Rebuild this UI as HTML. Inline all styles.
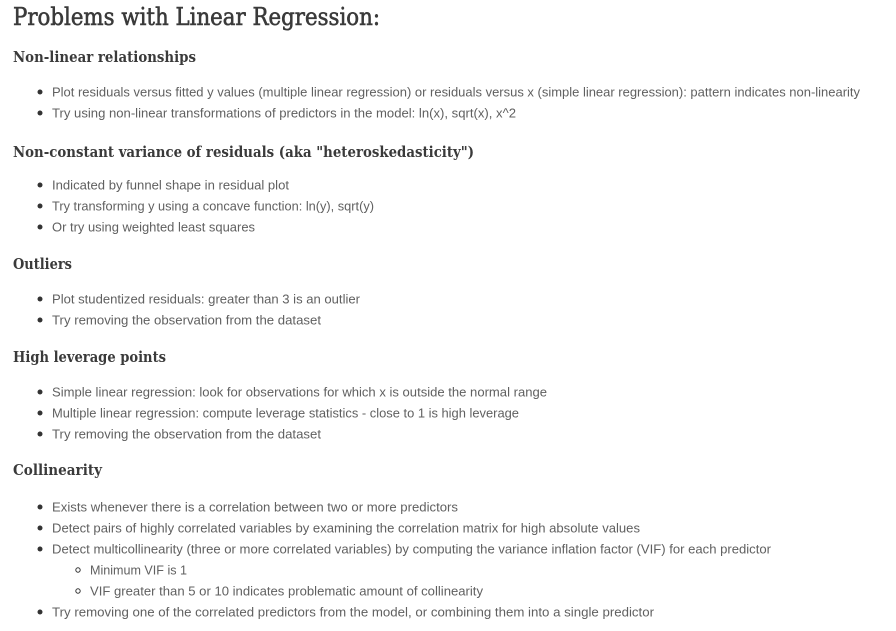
<!DOCTYPE html>
<html><head><meta charset="utf-8"><style>
html,body{margin:0;padding:0;background:#fff;}
svg{display:block}
.h{font-family:"DejaVu Serif","Liberation Serif",serif;fill:#3a3a3a;font-weight:bold;}
.b{font-family:"Liberation Sans",sans-serif;font-size:12.5px;fill:#606060;}
</style></head><body>
<svg width="896" height="631" xmlns="http://www.w3.org/2000/svg">
<text class="h" x="13" y="25" font-size="24" textLength="367" lengthAdjust="spacingAndGlyphs" style="font-weight:normal;stroke:#3a3a3a;stroke-width:0.6">Problems with Linear Regression:</text>
<text class="h" x="13" y="62" font-size="15" textLength="183" lengthAdjust="spacingAndGlyphs">Non-linear relationships</text>
<text class="h" x="13" y="157" font-size="15" textLength="461" lengthAdjust="spacingAndGlyphs">Non-constant variance of residuals (aka "heteroskedasticity")</text>
<text class="h" x="13" y="269" font-size="15" textLength="59" lengthAdjust="spacingAndGlyphs">Outliers</text>
<text class="h" x="13" y="362" font-size="15" textLength="153" lengthAdjust="spacingAndGlyphs">High leverage points</text>
<text class="h" x="13" y="475" font-size="15" textLength="89" lengthAdjust="spacingAndGlyphs">Collinearity</text>
<g fill="#333">
<circle cx="40" cy="92" r="2.5"/><circle cx="40" cy="113" r="2.5"/>
<circle cx="40" cy="185" r="2.5"/><circle cx="40" cy="206" r="2.5"/><circle cx="40" cy="227" r="2.5"/>
<circle cx="40" cy="299" r="2.5"/><circle cx="40" cy="320" r="2.5"/>
<circle cx="40" cy="392" r="2.5"/><circle cx="40" cy="413" r="2.5"/><circle cx="40" cy="434" r="2.5"/>
<circle cx="40" cy="507" r="2.5"/><circle cx="40" cy="528" r="2.5"/><circle cx="40" cy="549" r="2.5"/><circle cx="40" cy="612" r="2.5"/>
</g>
<circle cx="78" cy="570" r="2.2" fill="none" stroke="#333" stroke-width="1"/>
<circle cx="78" cy="591" r="2.2" fill="none" stroke="#333" stroke-width="1"/>
<g class="b">
<text x="52" y="96.5" textLength="808" lengthAdjust="spacingAndGlyphs">Plot residuals versus fitted y values (multiple linear regression) or residuals versus x (simple linear regression): pattern indicates non-linearity</text>
<text x="52" y="117.5" textLength="464" lengthAdjust="spacingAndGlyphs">Try using non-linear transformations of predictors in the model: ln(x), sqrt(x), x^2</text>
<text x="52" y="189.5" textLength="237" lengthAdjust="spacingAndGlyphs">Indicated by funnel shape in residual plot</text>
<text x="52" y="210.5" textLength="322" lengthAdjust="spacingAndGlyphs">Try transforming y using a concave function: ln(y), sqrt(y)</text>
<text x="52" y="231.5" textLength="203" lengthAdjust="spacingAndGlyphs">Or try using weighted least squares</text>
<text x="52" y="303.5" textLength="308" lengthAdjust="spacingAndGlyphs">Plot studentized residuals: greater than 3 is an outlier</text>
<text x="52" y="324.5" textLength="269" lengthAdjust="spacingAndGlyphs">Try removing the observation from the dataset</text>
<text x="52" y="396.5" textLength="495" lengthAdjust="spacingAndGlyphs">Simple linear regression: look for observations for which x is outside the normal range</text>
<text x="52" y="417.5" textLength="467" lengthAdjust="spacingAndGlyphs">Multiple linear regression: compute leverage statistics - close to 1 is high leverage</text>
<text x="52" y="438.5" textLength="269" lengthAdjust="spacingAndGlyphs">Try removing the observation from the dataset</text>
<text x="52" y="511.5" textLength="406" lengthAdjust="spacingAndGlyphs">Exists whenever there is a correlation between two or more predictors</text>
<text x="52" y="532.5" textLength="588" lengthAdjust="spacingAndGlyphs">Detect pairs of highly correlated variables by examining the correlation matrix for high absolute values</text>
<text x="52" y="553.5" textLength="719" lengthAdjust="spacingAndGlyphs">Detect multicollinearity (three or more correlated variables) by computing the variance inflation factor (VIF) for each predictor</text>
<text x="90" y="574.5" textLength="97" lengthAdjust="spacingAndGlyphs">Minimum VIF is 1</text>
<text x="90" y="595.5" textLength="393" lengthAdjust="spacingAndGlyphs">VIF greater than 5 or 10 indicates problematic amount of collinearity</text>
<text x="52" y="616.5" textLength="602" lengthAdjust="spacingAndGlyphs">Try removing one of the correlated predictors from the model, or combining them into a single predictor</text>
</g>
</svg>
</body></html>
